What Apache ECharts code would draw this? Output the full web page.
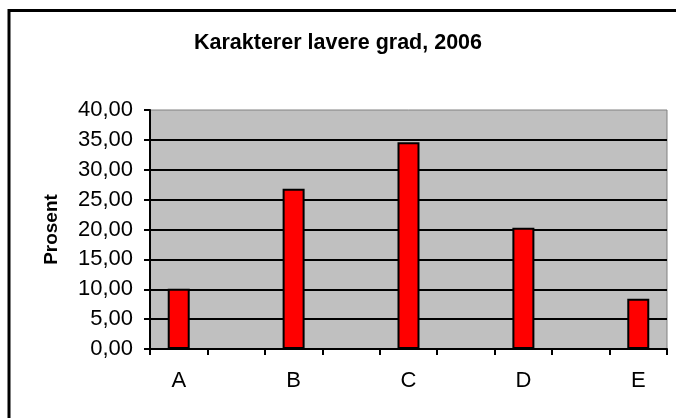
<!DOCTYPE html>
<html>
<head>
<meta charset="utf-8">
<script src="https://cdn.jsdelivr.net/npm/echarts@6/dist/echarts.min.js"></script>
<style>
html,body{margin:0;padding:0;background:#fff;}
#c{width:676px;height:418px;}
</style>
</head>
<body>
<div id="c"></div>
<script>
const categories = ['A', '', 'B', '', 'C', '', 'D', '', 'E'];
const values = [10.1, null, 26.8, null, 34.6, null, 20.3, null, 8.4];
const yTicks = { min: 0, max: 40, interval: 5 };

const FONT = '"Liberation Sans", Arial, sans-serif';
const chart = echarts.init(document.getElementById('c'), null, { renderer: 'canvas' });
chart.setOption({
  animation: false,
  backgroundColor: '#ffffff',
  title: {
    text: 'Karakterer lavere grad, 2006',
    left: 'center',
    top: 27,
    textStyle: { fontFamily: FONT, fontWeight: 'bold', fontSize: 21.5, color: '#000' }
  },
  graphic: [{
    type: 'rect',
    shape: { x: 9, y: 10.5, width: 720, height: 500 },
    style: { fill: 'none', stroke: '#000', lineWidth: 3 },
    silent: true, z: 100
  }],
  grid: {
    left: 150, top: 110, right: 9, bottom: 69,
    show: true, backgroundColor: '#C0C0C0', borderColor: '#808080', borderWidth: 1
  },
  xAxis: {
    type: 'category',
    data: categories,
    boundaryGap: true,
    axisLine: { show: true, lineStyle: { color: '#000', width: 2 } },
    axisTick: { show: true, interval: 0, length: 6, lineStyle: { color: '#000', width: 2 } },
    axisLabel: { interval: 0, margin: 21, fontFamily: FONT, fontSize: 22, color: '#000' },
    splitLine: { show: false }
  },
  yAxis: {
    type: 'value',
    min: yTicks.min, max: yTicks.max, interval: yTicks.interval,
    name: 'Prosent',
    nameLocation: 'middle',
    nameRotate: 90,
    nameGap: 89,
    nameTextStyle: { fontFamily: FONT, fontWeight: 'bold', fontSize: 19, color: '#000' },
    axisLine: { show: true, lineStyle: { color: '#000', width: 2 } },
    axisTick: { show: true, length: 6, lineStyle: { color: '#000', width: 2 } },
    axisLabel: {
      margin: 17,
      fontFamily: FONT, fontSize: 22, color: '#000',
      formatter: v => v.toFixed(2).replace('.', ',')
    },
    splitLine: { show: true, showMaxLine: false, showMinLine: false, lineStyle: { color: '#000', width: 2 } }
  },
  series: [{
    type: 'bar',
    data: values,
    barWidth: 22,
    itemStyle: { color: '#FF0000', borderColor: '#000', borderWidth: 2 }
  }]
});
</script>
</body>
</html>
